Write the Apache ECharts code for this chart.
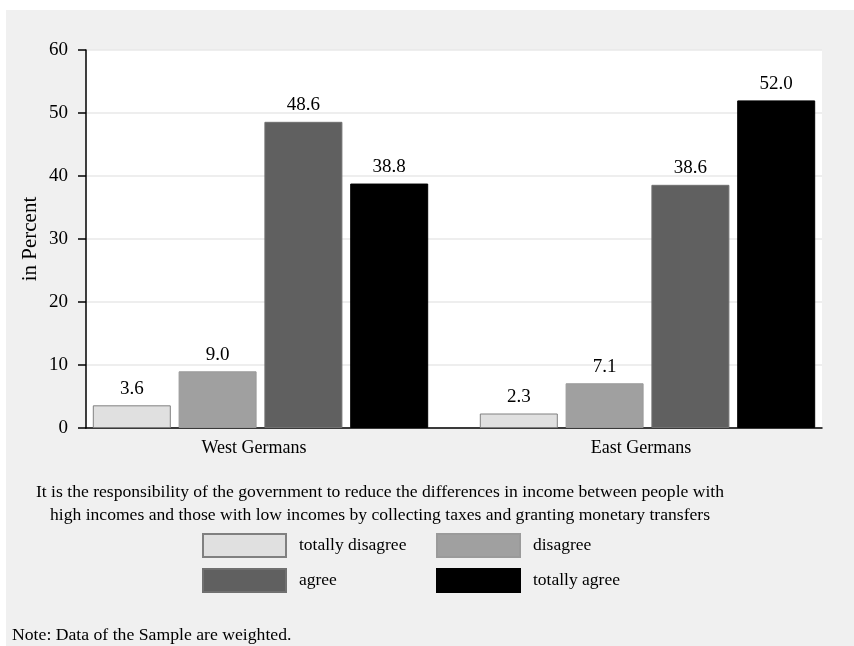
<!DOCTYPE html>
<html>
<head>
<meta charset="utf-8">
<script src="https://cdn.jsdelivr.net/npm/echarts@6/dist/echarts.min.js"></script>
<style>
html,body{margin:0;padding:0;background:#ffffff;width:854px;height:646px;overflow:hidden;}
#c{position:absolute;left:6px;top:10px;width:848px;height:636px;}
</style>
</head>
<body>
<div id="c"></div>
<script>
const categories = ['West Germans', 'East Germans'];
const seriesNames = ['totally disagree', 'disagree', 'agree', 'totally agree'];
const totallyDisagree = [3.6, 2.3];
const disagree = [9.0, 7.1];
const agree = [48.6, 38.6];
const totallyAgree = [38.8, 52.0];
const yTicks = [0, 10, 20, 30, 40, 50, 60];
const yTitle = 'in Percent';
const captionLines = [
  'It is the responsibility of the government to reduce the differences in income between people with',
  'high incomes and those with low incomes by collecting taxes and granting monetary transfers'
];
const noteText = 'Note: Data of the Sample are weighted.';

const FONT = 'Liberation Serif';
const fills = ['#e0e0e0', '#a0a0a0', '#606060', '#000000'];
const borders = ['#808080', '#9a9a9a', '#707070', '#000000'];
const values = [totallyDisagree, disagree, agree, totallyAgree];

const chart = echarts.init(document.getElementById('c'), null, {renderer: 'canvas'});

const series = seriesNames.map((name, i) => ({
  name: name,
  type: 'bar',
  xAxisIndex: 1,
  yAxisIndex: 1,
  data: values[i],
  barWidth: 78,
  barGap: '10%',
  itemStyle: {color: fills[i], borderColor: borders[i], borderWidth: 1},
  label: {
    show: true,
    position: 'top',
    distance: 7,
    color: '#000',
    fontFamily: FONT,
    fontSize: 19,
    formatter: p => p.value.toFixed(1)
  },
  emphasis: {disabled: true},
  silent: true
}));

// legend positions (chart coords): two columns, two rows
const legendPos = [[196, 523], [430, 523], [196, 558], [430, 558]];
const legends = seriesNames.map((name, i) => ({
  left: legendPos[i][0],
  top: legendPos[i][1],
  padding: 0,
  data: [name],
  itemWidth: 83,
  itemHeight: 23,
  icon: 'rect',
  selectedMode: false,
  textStyle: {fontFamily: FONT, fontSize: 17.5, color: '#000', padding: [0, 0, 0, 8]}
}));

chart.setOption({
  backgroundColor: '#f0f0f0',
  animation: false,
  grid: [
    {left: 80, top: 40, width: 736, height: 378, show: true, backgroundColor: '#ffffff', borderWidth: 0},
    {left: 61, top: 40, width: 774, height: 378, show: false}
  ],
  xAxis: [
    {
      gridIndex: 0, type: 'category', data: categories.map(() => ''),
      axisLine: {show: true, lineStyle: {color: '#000', width: 1.5}},
      axisTick: {show: false}, axisLabel: {show: false}, splitLine: {show: false}
    },
    {
      gridIndex: 1, type: 'category', data: categories,
      axisLine: {show: false}, axisTick: {show: false}, splitLine: {show: false},
      axisLabel: {color: '#000', fontFamily: FONT, fontSize: 18, margin: 11, padding: [0, 13, 0, 0]}
    }
  ],
  yAxis: [
    {
      gridIndex: 0, type: 'value', min: yTicks[0], max: yTicks[yTicks.length - 1], interval: 10,
      axisLine: {show: true, lineStyle: {color: '#000', width: 1.5}},
      axisTick: {show: true, length: 8, lineStyle: {color: '#000', width: 1.5}},
      axisLabel: {color: '#000', fontFamily: FONT, fontSize: 19, margin: 18},
      splitLine: {show: true, lineStyle: {color: '#e8e8e8', width: 1.5}}
    },
    {
      gridIndex: 1, type: 'value', min: yTicks[0], max: yTicks[yTicks.length - 1], interval: 10,
      show: false, splitLine: {show: false}
    }
  ],
  legend: legends,
  graphic: [
    {type: 'text', x: 24, y: 229, rotation: Math.PI / 2, style: {text: yTitle, font: '21px "' + FONT + '"', fill: '#000', textAlign: 'center', textVerticalAlign: 'middle'}},
    {type: 'text', x: 374, y: 482, style: {text: captionLines[0], font: '17.6px "' + FONT + '"', fill: '#000', textAlign: 'center', textVerticalAlign: 'middle'}},
    {type: 'text', x: 374, y: 505, style: {text: captionLines[1], font: '17.6px "' + FONT + '"', fill: '#000', textAlign: 'center', textVerticalAlign: 'middle'}},
    {type: 'text', x: 6, y: 625, style: {text: noteText, font: '17.7px "' + FONT + '"', fill: '#000', textAlign: 'left', textVerticalAlign: 'middle'}}
  ],
  series: series
});
</script>
</body>
</html>
